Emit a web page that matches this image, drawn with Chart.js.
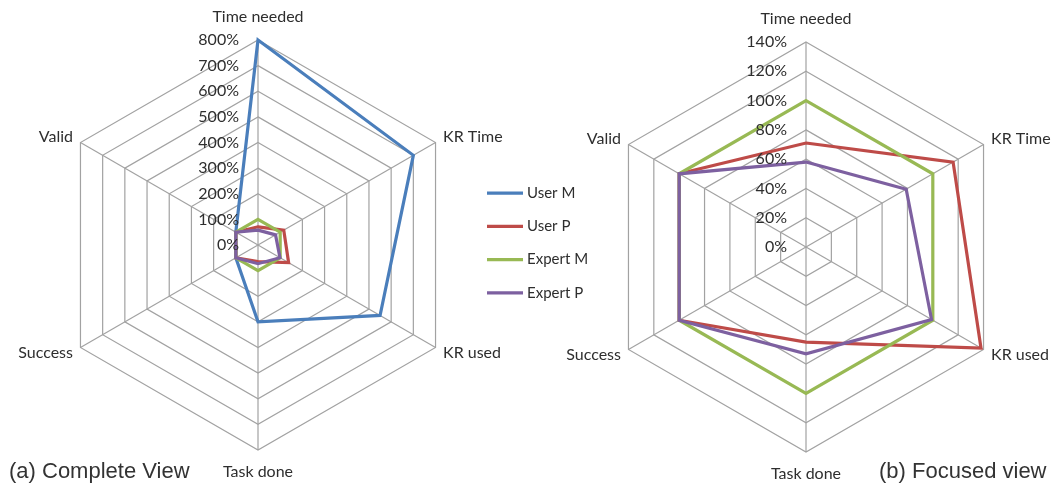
<!DOCTYPE html>
<html><head><meta charset="utf-8">
<script src="https://cdn.jsdelivr.net/npm/chart.js@4"></script>
<style>
html,body{margin:0;padding:0;background:#fff;width:1053px;height:487px;overflow:hidden;position:relative;}
#c1{position:absolute;left:0;top:0;}
#c2{position:absolute;left:560px;top:0;}
.cap{position:absolute;top:458px;font-family:"Liberation Sans",Arial,sans-serif;font-size:22px;line-height:26px;color:#333;white-space:nowrap;}
</style></head><body>
<canvas id="c1" width="600" height="487"></canvas>
<canvas id="c2" width="493" height="487"></canvas>
<div class="cap" style="left:9px">(a) Complete View</div>
<div class="cap" style="left:879px">(b) Focused view</div>
<script>
// ---- data ----
const categories = ['Time needed', 'KR Time', 'KR used', 'Task done', 'Success', 'Valid'];
const seriesNames = ['User M', 'User P', 'Expert M', 'Expert P'];
const userM   = [800, 700, 550, 300, 100, 100];
const userP   = [71, 116, 138, 65, 100, 100];
const expertM = [100, 100, 100, 100, 100, 100];
const expertP = [58, 79, 99, 73, 100, 100];
const completeTicks = [0, 100, 200, 300, 400, 500, 600, 700, 800];
const focusedTicks  = [0, 20, 40, 60, 80, 100, 120, 140];

const colors = ['#4A7EBB', '#BE4B48', '#98B954', '#7D60A0'];
const seriesValues = [userM, userP, expertM, expertP];
const TEXT = '#2E2E2E';
const GRID = '#A2A2A2';

function makeDatasets(indices) {
  return indices.map(i => ({
    label: seriesNames[i],
    data: seriesValues[i],
    borderColor: colors[i],
    backgroundColor: colors[i],
    borderWidth: 3.2,
    pointRadius: 0,
    pointHoverRadius: 0,
    fill: false,
    clip: false,
    order: 10 - i
  }));
}

const radarText = {
  id: 'radarText',
  afterDatasetsDraw(chart) {
    const s = chart.scales.r;
    const ctx = chart.ctx;
    ctx.save();
    ctx.fillStyle = TEXT;
    ctx.font = '16px Lato, "Open Sans", sans-serif';
    ctx.textBaseline = 'middle';
    ctx.textAlign = 'right';
    s.ticks.forEach(t => {
      const d = s.getDistanceFromCenterForValue(t.value);
      ctx.fillText(t.value + '%', s.xCenter - 19, s.yCenter - d);
    });
    const R = s.drawingArea;
    chart.data.labels.forEach((lab, i) => {
      const p = s.getPointPosition(i, R);
      const a = s.getIndexAngle(i);
      const sn = Math.sin(a), cs = Math.cos(a);
      let x = p.x, y = p.y, align;
      if (Math.abs(sn) < 0.01) {
        align = 'center';
        y += cs > 0 ? -23 : 21.5;
      } else {
        align = sn > 0 ? 'left' : 'right';
        x += sn > 0 ? 7.5 : -7.5;
        y += cs > 0 ? -5.5 : 5.5;
      }
      ctx.textAlign = align;
      ctx.fillText(lab, x, y);
    });
    ctx.restore();
  }
};

const sideLegend = {
  id: 'sideLegend',
  afterDraw(chart) {
    const s = chart.scales.r;
    const ctx = chart.ctx;
    const ds = chart.data.datasets;
    const x0 = chart.chartArea.right + 24;
    const gap = 33.3;
    ctx.save();
    ctx.font = '15px Lato, "Open Sans", sans-serif';
    ctx.textBaseline = 'middle';
    ctx.textAlign = 'left';
    ds.forEach((d, i) => {
      const y = s.yCenter - 2 + (i - (ds.length - 1) / 2) * gap;
      ctx.strokeStyle = d.borderColor;
      ctx.lineWidth = 3.2;
      ctx.beginPath();
      ctx.moveTo(x0, y);
      ctx.lineTo(x0 + 36, y);
      ctx.stroke();
      ctx.fillStyle = TEXT;
      ctx.fillText(d.label, x0 + 40, y);
    });
    ctx.restore();
  }
};

function makeOptions(ticks, pad) {
  return {
    responsive: false,
    animation: false,
    layout: { padding: pad },
    plugins: { legend: { display: false }, tooltip: { enabled: false } },
    elements: { line: { tension: 0, borderJoinStyle: 'miter' } },
    scales: {
      r: {
        min: ticks[0],
        max: ticks[ticks.length - 1],
        ticks: { display: false, stepSize: ticks[1] - ticks[0] },
        grid: { color: GRID, lineWidth: 1.2 },
        angleLines: { color: GRID, lineWidth: 1.2 },
        pointLabels: { display: false }
      }
    }
  };
}

new Chart(document.getElementById('c1'), {
  type: 'radar',
  data: { labels: categories, datasets: makeDatasets([0, 1, 2, 3]) },
  options: makeOptions(completeTicks, { left: 53, right: 137, top: 40, bottom: 37 }),
  plugins: [radarText, sideLegend]
});

new Chart(document.getElementById('c2'), {
  type: 'radar',
  data: { labels: categories, datasets: makeDatasets([1, 2, 3]) },
  options: makeOptions(focusedTicks, { left: 41, right: 42, top: 42, bottom: 35 }),
  plugins: [radarText]
});
</script>
</body></html>
